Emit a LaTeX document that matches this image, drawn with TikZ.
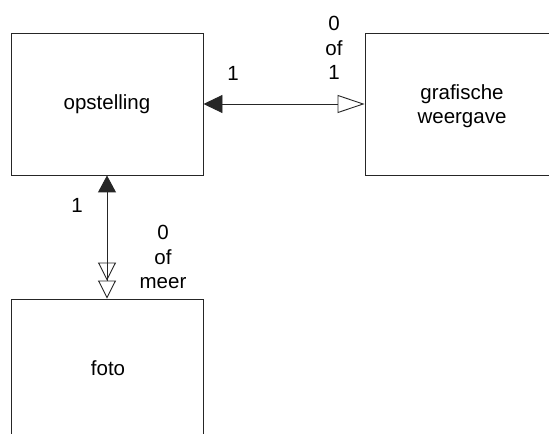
\documentclass[tikz,border=0pt]{standalone}
\usepackage{fontspec}
\setmainfont{Liberation Sans}
\usetikzlibrary{arrows.meta}
\begin{document}
\begin{tikzpicture}[x=1bp,y=-1bp,
  entity/.style={draw=black!85,line width=0.9bp,minimum width=192bp,minimum height=142bp,inner sep=0pt,
    font=\fontsize{20.5bp}{24.5bp}\selectfont,align=center},
  lbl/.style={font=\fontsize{20.5bp}{24.5bp}\selectfont,align=center,inner sep=0pt},
  rel/.style={line width=0.9bp,draw=black!85}
]
\useasboundingbox (0,0) rectangle (549,434);
\clip (0,0) rectangle (549,434);
\fill[white] (0,0) rectangle (549,434);
\node[entity] (ops) at (107,104) {opstelling};
\node[entity] (graf) at (461,104) {};
\node[lbl] (graftxt) at (462,106) {grafische\\weergave};
\node[entity] (foto) at (107,370) {};
\node[lbl] (fototxt) at (108,368) {foto};
\draw[rel,{Triangle[length=19bp,width=18bp]}-{Triangle[open,length=27bp,width=18bp]}] (ops.east) -- (graf.west);
\draw[rel,{Triangle[length=17bp,width=18bp]}-{Triangle[open,length=18bp,width=18bp]Triangle[open,length=18bp,width=18bp,sep=0pt]}] (ops.south) -- (foto.north);
\node[lbl] (h1) at (233,73) {1};
\node[lbl] (h01) at (334,48) {0\\of\\1};
\node[lbl] (v1) at (77,205) {1};
\node[lbl] (v0m) at (163,257) {0\\of\\meer};
\end{tikzpicture}
\end{document}
